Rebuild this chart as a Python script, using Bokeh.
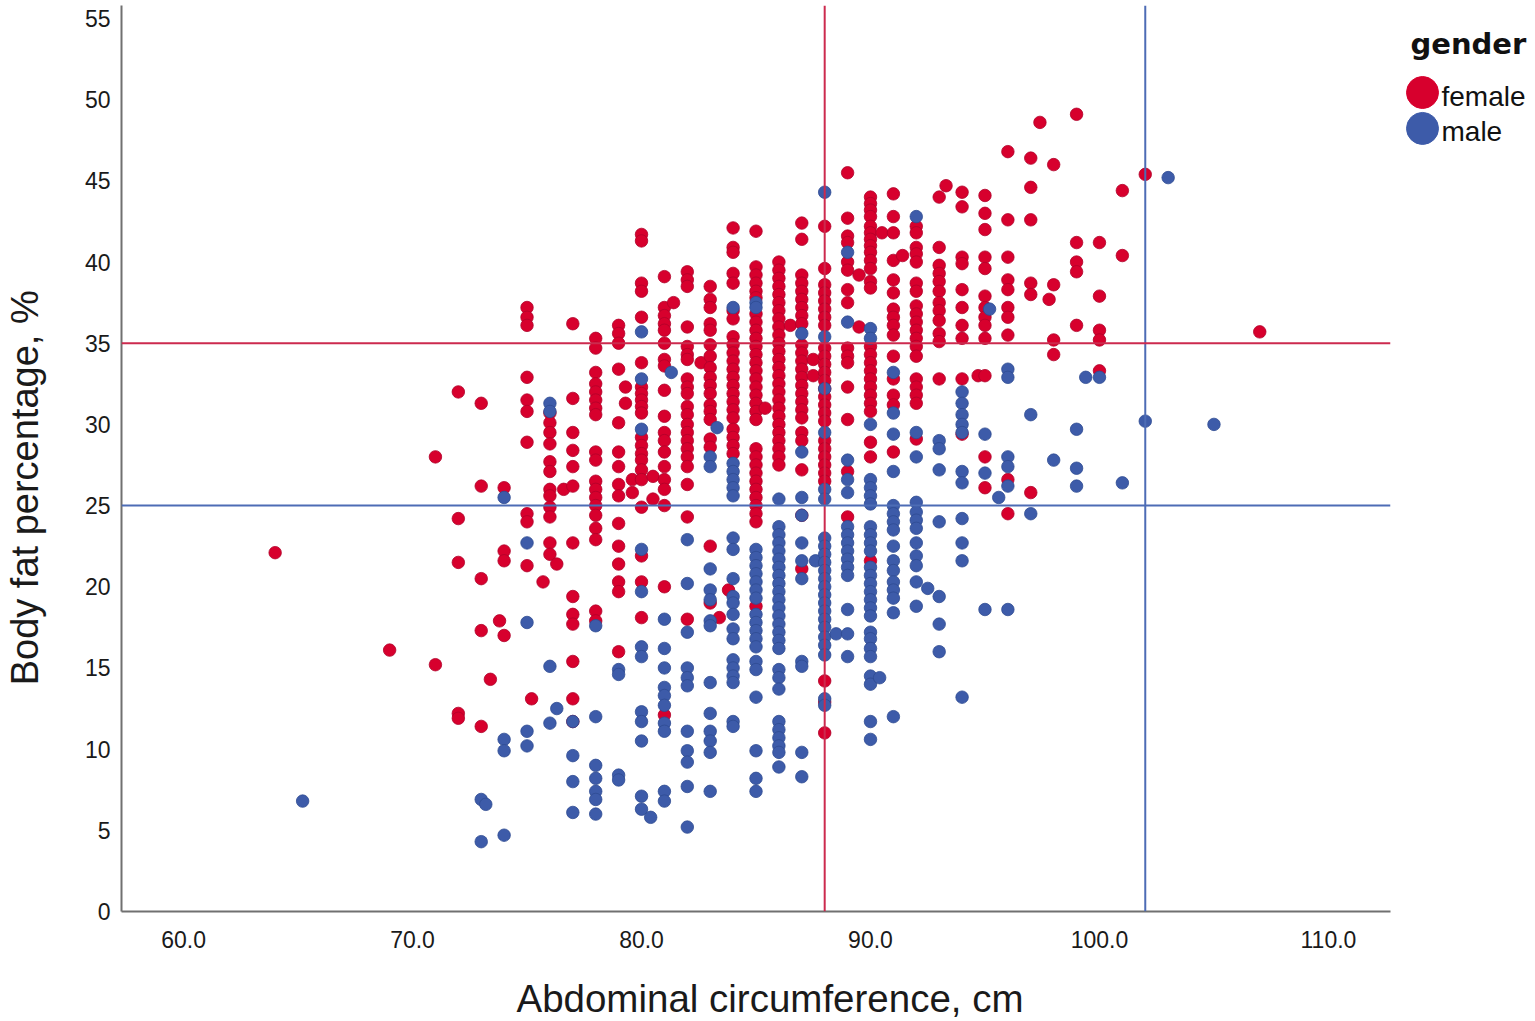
import math
from bokeh.plotting import figure
from bokeh.layouts import row, column
from bokeh.models import Range1d, Span, PrintfTickFormatter, FixedTicker, ColumnDataSource
from bokeh.core.properties import value
from bokeh.embed import file_html
from bokeh.resources import INLINE

# ---------------- data ----------------
female_waist = [64, 69, 71, 72, 73, 73.4, 73.8, 74, 75, 75.2, 75.7, 76, 76.3, 76.6, 77, 78, 79, 79.3, 79.6,
                80, 80.5, 81, 81.4, 82, 82.6, 83, 83.4, 83.8, 84, 85, 85.4, 86, 86.5, 87, 87.5, 88, 89, 89.5,
                90, 90.5, 91, 91.4, 92, 93, 93.3, 94, 94.7, 95, 96, 97, 97.4, 97.8, 98, 99, 100, 101, 102, 107]
female_fat = [
    [22.1],  # 64
    [16.1],  # 69
    [28.0, 15.2],  # 71
    [32.0, 24.2, 21.5, 12.2, 11.9],  # 72
    [31.3, 26.2, 20.5, 17.3, 11.4],  # 73
    [14.3],  # 73.4
    [17.9],  # 73.8
    [26.1, 22.2, 21.6, 17.0],  # 74
    [37.2, 36.6, 36.1, 32.9, 31.5, 30.8, 28.9, 24.5, 24.0, 21.3],  # 75
    [13.1],  # 75.2
    [20.3],  # 75.7
    [30.7, 30.1, 29.5, 28.8, 27.7, 27.1, 26.0, 25.6, 24.9, 24.3, 22.7, 22.0],  # 76
    [21.4],  # 76.3
    [26.0],  # 76.6
    [36.2, 31.6, 29.5, 28.4, 27.4, 26.2, 22.7, 19.4, 18.3, 17.7, 15.4, 13.1, 11.7],  # 77
    [35.3, 34.7, 33.2, 32.5, 32.0, 31.5, 31.0, 30.6, 28.3, 27.8, 26.5, 26.0, 25.5, 25.0, 24.4, 23.6,
     22.9, 18.5, 17.9],  # 78
    [36.1, 35.6, 35.0, 33.4, 30.1, 28.3, 27.4, 26.3, 25.6, 23.9, 22.5, 21.4, 20.3, 19.7, 16.0],  # 79
    [32.3, 31.3],  # 79.3
    [26.6, 25.8],  # 79.6
    [41.7, 41.3, 38.7, 38.2, 36.6, 33.8, 32.3, 31.9, 31.5, 31.1, 30.7, 29.2, 28.7, 28.2, 27.8, 27.2,
     26.6, 24.9, 21.9, 20.3, 18.1],  # 80
    [26.8, 25.4],  # 80.5
    [39.1, 37.2, 36.7, 36.2, 35.8, 35.0, 34.0, 33.6, 32.1, 30.5, 29.5, 29.0, 28.3, 27.4, 26.6, 26.0,
     25.0, 20.0, 12.1],  # 81
    [37.5],  # 81.4
    [39.4, 38.9, 38.5, 36.0, 34.8, 34.3, 34.0, 32.8, 32.3, 31.9, 31.1, 30.6, 30.0, 29.5, 29.0, 28.5,
     28.0, 27.4, 26.3, 24.3, 18.0],  # 82
    [33.8],  # 82.6
    [38.5, 37.7, 37.2, 36.2, 35.8, 34.9, 34.2, 33.5, 32.9, 32.4, 31.9, 31.2, 30.8, 30.3, 29.1, 28.6,
     22.5, 19.0],  # 83
    [18.1],  # 83.4
    [19.8],  # 83.8
    [42.1, 40.9, 40.6, 39.3, 38.7, 37.0, 36.5, 35.4, 34.9, 34.4, 33.9, 33.4, 32.9, 32.4, 31.9, 31.4,
     30.9, 30.4, 29.7, 29.2, 28.7, 28.2],  # 84
    [41.9, 39.7, 39.2, 38.7, 38.2, 37.8, 36.8, 36.3, 35.8, 35.3, 34.8, 34.3, 33.8, 33.3, 32.8, 32.3,
     31.8, 31.3, 30.8, 30.3, 28.5, 28.0, 27.5, 27.0, 26.5, 26.0, 25.5, 25.0, 24.5, 24.0, 18.8],  # 85
    [31.0],  # 85.4
    [40.0, 39.5, 39.0, 38.5, 38.0, 37.5, 37.0, 36.5, 36.0, 35.5, 35.0, 34.5, 34.0, 33.5, 33.0, 32.5,
     32.0, 31.5, 31.0, 30.5, 30.0, 29.5, 29.0, 28.5, 28.0, 27.5],  # 86
    [36.1],  # 86.5
    [42.4, 41.4, 39.2, 38.7, 38.2, 37.7, 37.2, 36.7, 36.2, 34.9, 34.4, 33.9, 33.4, 32.9, 32.4, 31.9,
     31.4, 30.9, 30.4, 29.5, 29.0, 27.2, 24.4, 21.1],  # 87
    [34.0, 33.0],  # 87.5
    [42.2, 39.6, 38.6, 38.1, 37.6, 37.1, 36.6, 36.1, 34.7, 34.2, 33.7, 33.2, 32.7, 32.2, 31.7, 31.2,
     30.7, 30.2, 29.0, 28.5, 28.0, 27.5, 27.0, 26.5, 14.2, 12.9, 11.0],  # 88
    [45.5, 42.7, 41.6, 41.2, 40.0, 39.5, 38.3, 37.5, 34.7, 34.2, 33.8, 32.3, 30.3, 27.1, 24.3],  # 89
    [39.2, 36.0],  # 89.5
    [44.0, 43.6, 43.2, 42.8, 42.2, 41.8, 41.4, 41.0, 40.6, 40.1, 39.6, 38.8, 38.4, 34.8, 34.3, 33.8,
     33.3, 32.8, 32.3, 31.8, 31.3, 30.8, 28.9, 28.0, 21.6],  # 90
    [41.8],  # 90.5
    [44.2, 42.8, 41.8, 40.1, 38.9, 38.1, 37.1, 36.6, 36.1, 35.5, 34.2, 32.8, 31.8, 31.2, 28.3],  # 91
    [40.4],  # 91.4
    [42.2, 41.8, 40.9, 40.5, 40.0, 38.7, 38.2, 37.3, 36.8, 36.3, 35.8, 35.3, 34.8, 34.2, 32.8, 32.3,
     31.8, 31.3, 29.1],  # 92
    [44.0, 40.9, 39.8, 39.3, 38.8, 38.2, 37.5, 37.0, 36.4, 35.6, 35.1, 32.8],  # 93
    [44.7],  # 93.3
    [44.3, 43.4, 40.3, 39.9, 38.3, 37.2, 36.1, 35.3, 32.8, 29.4],  # 94
    [33.0],  # 94.7
    [44.1, 43.0, 42.0, 40.3, 39.6, 37.9, 37.2, 36.6, 36.1, 35.3, 33.0, 28.0, 26.1],  # 95
    [46.8, 42.6, 40.3, 38.9, 38.3, 37.2, 36.6, 35.5, 26.6, 24.5],  # 96
    [46.4, 44.6, 42.6, 38.7, 38.0, 25.8],  # 97
    [48.6],  # 97.4
    [37.7],  # 97.8
    [46.0, 38.6, 35.2, 34.3],  # 98
    [49.1, 41.2, 40.0, 39.4, 36.1],  # 99
    [41.2, 37.9, 35.8, 35.2, 33.3],  # 100
    [44.4, 40.4],  # 101
    [45.4],  # 102
    [35.7],  # 107
]

male_waist = [65.2, 73, 73.2, 74, 75, 76, 76.3, 77, 78, 79, 80, 80.4, 81, 81.3, 82, 83, 83.3, 84, 85, 86,
              87, 87.6, 88, 88.5, 89, 90, 90.4, 91, 92, 92.5, 93, 94, 95, 95.2, 95.6, 96, 97, 98, 99, 99.4,
              100, 101, 102, 103, 105]
male_fat = [
    [6.8],  # 65.2
    [6.9, 4.3],  # 73
    [6.6],  # 73.2
    [25.5, 10.6, 9.9, 4.7],  # 74
    [22.7, 17.8, 11.1, 10.2],  # 75
    [31.3, 30.8, 15.1, 11.6],  # 76
    [12.5],  # 76.3
    [11.7, 9.6, 8.0, 6.1],  # 77
    [17.6, 12.0, 9.0, 8.2, 7.4, 6.9, 6.0],  # 78
    [14.9, 14.6, 8.4, 8.1],  # 79
    [35.7, 32.8, 29.7, 22.3, 19.7, 16.3, 15.7, 12.3, 11.7, 10.5, 7.1, 6.3],  # 80
    [5.8],  # 80.4
    [18.0, 16.2, 15.0, 13.8, 13.3, 12.7, 11.6, 11.1, 7.4, 6.8],  # 81
    [33.2],  # 81.3
    [22.9, 20.2, 17.2, 15.0, 14.4, 13.9, 11.1, 9.9, 9.2, 7.7, 5.2],  # 82
    [28.0, 27.4, 21.1, 19.8, 19.2, 17.9, 17.6, 14.1, 12.2, 11.1, 10.5, 9.8, 7.4],  # 83
    [29.8],  # 83.3
    [37.2, 27.6, 27.1, 26.6, 26.1, 25.6, 23.0, 22.3, 20.5, 19.4, 19.0, 18.3, 17.4, 16.8, 15.5, 15.0,
     14.5, 14.1, 11.7, 11.4],  # 84
    [37.5, 37.2, 22.3, 21.8, 21.3, 20.8, 20.3, 19.8, 19.3, 18.3, 17.8, 17.3, 16.8, 16.3, 15.4, 14.9,
     13.2, 9.9, 8.2, 7.4],  # 85
    [25.4, 23.7, 23.2, 22.7, 22.2, 21.7, 21.2, 20.7, 20.2, 19.7, 19.2, 18.7, 18.2, 17.7, 17.2, 16.7,
     16.2, 14.9, 14.4, 13.7, 11.7, 11.2, 10.7, 10.2, 9.8, 8.9],  # 86
    [35.6, 28.3, 25.5, 24.4, 22.7, 21.6, 20.5, 15.4, 15.1, 9.8, 8.3],  # 87
    [21.6],  # 87.6
    [44.3, 35.4, 32.2, 29.5, 26.0, 25.4, 23.0, 22.5, 22.0, 21.5, 21.0, 20.5, 20.0, 19.5, 19.0, 18.5,
     18.0, 17.5, 16.9, 16.4, 15.8, 13.1, 12.7],  # 88
    [17.1],  # 88.5
    [40.6, 36.3, 27.8, 26.6, 25.8, 23.7, 23.2, 22.7, 22.2, 21.7, 21.2, 20.7, 18.6, 17.1, 15.7],  # 89
    [35.9, 35.3, 30.0, 26.6, 26.1, 25.6, 25.1, 23.7, 23.2, 22.7, 22.2, 21.2, 20.7, 20.2, 19.7, 19.2,
     18.7, 18.2, 17.2, 16.8, 16.2, 15.7, 14.5, 14.0, 11.7, 10.6],  # 90
    [14.4],  # 90.4
    [33.2, 30.7, 29.4, 27.1, 25.0, 24.5, 24.0, 23.5, 22.5, 21.6, 21.0, 20.3, 19.8, 19.3, 18.4, 12.0],  # 91
    [42.8, 29.5, 28.0, 25.2, 24.6, 24.1, 23.6, 22.7, 21.9, 21.3, 20.3, 18.8],  # 92
    [19.9],  # 92.5
    [29.0, 28.5, 27.2, 24.0, 19.4, 17.7, 16.0],  # 93
    [32.0, 31.3, 30.6, 30.0, 29.5, 27.1, 26.4, 24.2, 22.7, 21.6, 13.2],  # 94
    [29.4, 27.0, 18.6],  # 95
    [37.1],  # 95.2
    [25.5],  # 95.6
    [33.4, 32.9, 28.0, 27.4, 26.2, 18.6],  # 96
    [30.6, 24.5],  # 97
    [27.8],  # 98
    [29.7, 27.3, 26.2],  # 99
    [32.9],  # 99.4
    [32.9],  # 100
    [26.4],  # 101
    [30.2],  # 102
    [45.2],  # 103
    [30.0],  # 105
]

x_ticks = [60, 70, 80, 90, 100, 110]
y_ticks = [0, 5, 10, 15, 20, 25, 30, 35, 40, 45, 50, 55]
cutoff_waist = {"female": 88, "male": 102}
cutoff_fat = {"female": 35, "male": 25}
genders = ["female", "male"]
x_title = "Abdominal circumference, cm"
y_title = "Body fat percentage, %"

# ---------------- styling ----------------
FEMALE = "#D7002D"
MALE = "#3D5BA9"
FEMALE_LINE = "#CC2A4E"
MALE_LINE = "#4D6CB5"
FONT = "Liberation Sans"

assert len(female_waist) == len(female_fat)
assert len(male_waist) == len(male_fat)


def flatten(cols, vals):
    xs, ys = [], []
    for c, vs in zip(cols, vals):
        for v in vs:
            xs.append(c)
            ys.append(v)
    return xs, ys


fx, fy = flatten(female_waist, female_fat)
mx, my = flatten(male_waist, male_fat)


def blank(w, h):
    f = figure(width=w, height=h, x_range=Range1d(0, w), y_range=Range1d(h, 0),
               output_backend="svg", toolbar_location=None, x_axis_type=None, y_axis_type=None,
               min_border=0)
    f.outline_line_color = None
    f.xgrid.visible = False
    f.ygrid.visible = False
    return f


TOP = 5          # frame top
FRAME_BOTTOM = 911
FRAME_LEFT = 121
FRAME_RIGHT = 1390
YT_W = 60        # strip for the y title
HM = 958         # height of main row
W_MAIN = 1395 - YT_W
LW = 138

# ---------------- main scatter ----------------
p = figure(width=W_MAIN, height=HM, x_range=Range1d(57.29, 112.71), y_range=Range1d(0, 55.80),
           output_backend="svg", toolbar_location=None,
           min_border_left=FRAME_LEFT - YT_W, min_border_right=W_MAIN + YT_W - FRAME_RIGHT,
           min_border_top=TOP, min_border_bottom=HM - FRAME_BOTTOM)
p.outline_line_color = None
p.xgrid.visible = False
p.ygrid.visible = False
p.background_fill_color = "white"

p.scatter(x="x", y="y", source=ColumnDataSource(dict(x=fx, y=fy)), size=12.5,
          fill_color=FEMALE, line_color="#B0002A", line_width=0.8)
p.scatter(x="x", y="y", source=ColumnDataSource(dict(x=mx, y=my)), size=12.5,
          fill_color=MALE, line_color="#2F4B92", line_width=0.8)

p.add_layout(Span(location=cutoff_waist["female"], dimension="height", line_color=FEMALE_LINE, line_width=2))
p.add_layout(Span(location=cutoff_waist["male"], dimension="height", line_color=MALE_LINE, line_width=2))
p.add_layout(Span(location=cutoff_fat["female"], dimension="width", line_color=FEMALE_LINE, line_width=2))
p.add_layout(Span(location=cutoff_fat["male"], dimension="width", line_color=MALE_LINE, line_width=2))

for ax in (p.xaxis[0], p.yaxis[0]):
    ax.axis_line_color = "#707070"
    ax.axis_line_width = 2
    ax.major_tick_line_color = None
    ax.minor_tick_line_color = None
    ax.major_label_text_font = FONT
    ax.major_label_text_font_size = "23px"
    ax.major_label_text_color = "#1a1a1a"

p.xaxis.ticker = FixedTicker(ticks=x_ticks)
p.yaxis.ticker = FixedTicker(ticks=y_ticks)
p.xaxis.formatter = PrintfTickFormatter(format="%.1f")
p.xaxis.major_label_standoff = 13
p.yaxis.major_label_standoff = 5

# ---------------- y title strip ----------------
yt = blank(YT_W, HM)
yt.text(x=[24], y=[510], text=[y_title], angle=math.pi / 2, text_font=value(FONT),
        text_font_size="38px", text_align="center", text_baseline="middle", text_color="#1a1a1a")

# ---------------- legend panel ----------------
lg = blank(LW, HM)
lg.text(x=[15], y=[41], text=["gender"], text_font=value("DejaVu Sans"), text_font_style="bold",
        text_font_size="29px", text_baseline="middle", text_align="left", text_color="#111111")
lg.scatter(x=[27, 27], y=[92, 130], size=32, fill_color=[FEMALE, MALE], line_color=[FEMALE, MALE])
lg.text(x=[46, 46], y=[96, 133], text=genders, text_font=value(FONT), text_font_size="28px",
        text_baseline="middle", text_align="left", text_color="#111111")

# ---------------- x title strip ----------------
XT_H = 61
xt = blank(YT_W + W_MAIN + LW, XT_H)
xt.text(x=[769.5], y=[998 - HM], text=[x_title], text_font=value(FONT), text_font_size="38.5px",
        text_align="center", text_baseline="middle", text_color="#1a1a1a")

layout = column(row(yt, p, lg), xt)
open("out.html", "w").write(file_html(layout, INLINE))
